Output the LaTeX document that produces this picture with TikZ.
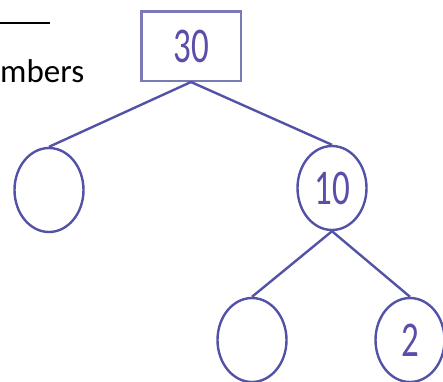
\documentclass[tikz,border=0pt]{standalone}
\usepackage{fontspec}
\setmainfont{Carlito}
\definecolor{treeblue}{HTML}{5252A6}
\definecolor{boxblue}{HTML}{7A7AB6}
\definecolor{digitblue}{HTML}{5A4EA8}
\usetikzlibrary{shapes.geometric}

\begin{document}
\begin{tikzpicture}[x=1pt, y=-1pt,
    treebox/.style={draw=boxblue, line width=2.5pt, minimum width=99.5, minimum height=69.5, inner sep=0pt},
    treecirc/.style={draw=treeblue, ellipse, line width=2.4pt, minimum width=69, minimum height=84, inner sep=0pt},
    treeedge/.style={draw=treeblue, line width=2.4pt},
    digits/.style={text=digitblue, font=\fontsize{50}{50}\selectfont}]
      \useasboundingbox (0,0) rectangle (443,381);

      % Cut-off text at top left
      \draw[line width=2pt] (0,23) -- (50,23);
      \node[anchor=base west, inner sep=0pt, font=\fontsize{33}{33}\selectfont] (word) at (0,82) {mbers};

      % Tree nodes
      \node[treebox, digits] (root) at (191,46) {\scalebox{0.7}[1]{30}};
      \node[treecirc] (left) at (49,190) {};
      \node[treecirc, digits] (ten) at (332,188) {\scalebox{0.7}[1]{10}};
      \node[treecirc] (lowleft) at (252,340) {};
      \node[treecirc, digits] (two) at (410,340) {\scalebox{0.7}[1]{2}};

      % Branches
      \draw[treeedge] (root.south) -- (left.north);
      \draw[treeedge] (root.south) -- (ten.north);
      \draw[treeedge] (ten.south) -- (lowleft.north);
      \draw[treeedge] (ten.south) -- (two.north);
    \end{tikzpicture}
\end{document}
